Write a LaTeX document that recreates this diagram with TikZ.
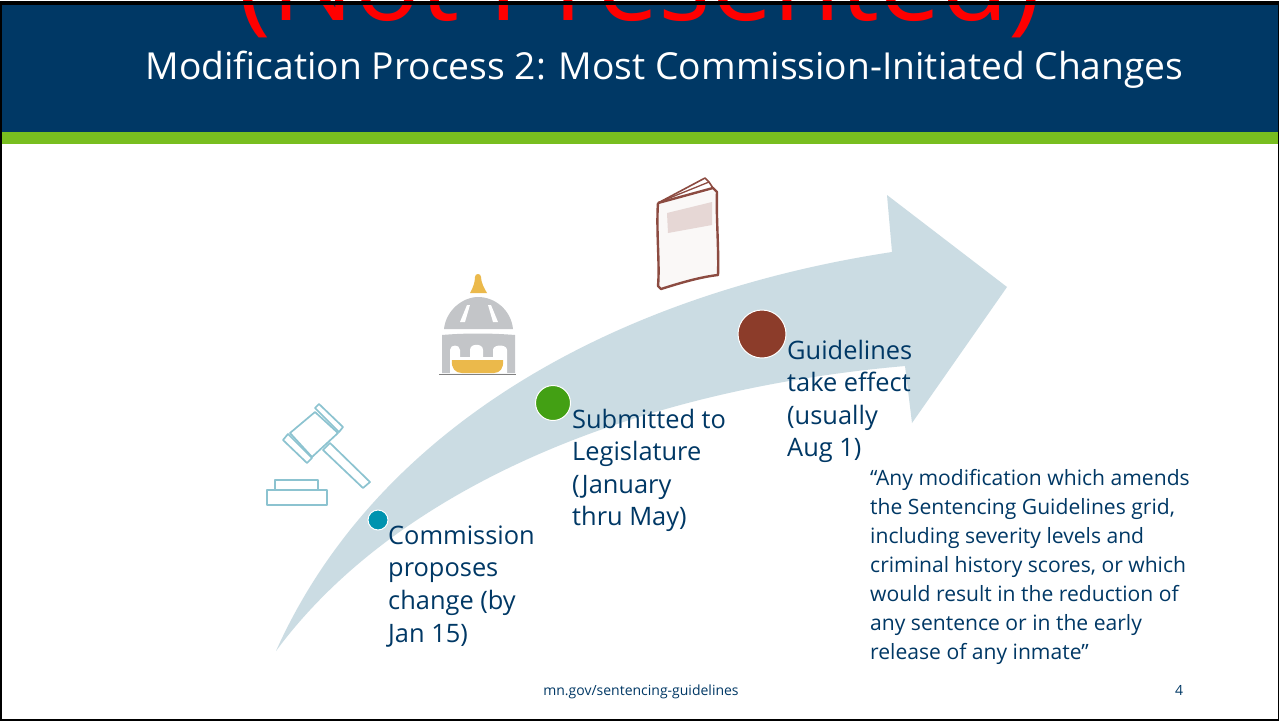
\documentclass[tikz,border=0pt]{standalone}
\usepackage{fontspec}
\setmainfont{Open Sans}
\definecolor{navy}{RGB}{0,56,101}
\definecolor{leaf}{RGB}{120,190,32}
\definecolor{arrowfill}{RGB}{203,220,227}
\definecolor{txt}{RGB}{0,56,101}
\definecolor{gavel}{RGB}{140,195,208}
\definecolor{teal}{RGB}{0,147,175}
\definecolor{green2}{RGB}{67,160,20}
\definecolor{rust}{RGB}{140,60,42}
\definecolor{gold}{RGB}{235,185,75}
\definecolor{domegray}{RGB}{195,197,200}
\definecolor{bookedge}{RGB}{140,75,65}
\tikzset{
  x=1pt,y=-1pt,
  steplabel/.style={anchor=north west,inner sep=0pt,align=left,text=txt,font=\fontsize{25.4}{32.6}\selectfont},
  dot/.style={circle,draw=white,line width=1pt,inner sep=0pt},
  gavelline/.style={draw=gavel,line width=1.7pt,double=gavel!45!white,double distance=1.2pt,line join=round},
}
\begin{document}
\begin{tikzpicture}
\useasboundingbox (0,0) rectangle (1279,721);
\fill[white] (0,0) rectangle (1279,721);
\fill[navy] (2,4) rectangle (1278,132);
\fill[leaf] (2,132) rectangle (1278,144);
% red text running off the top
\node[anchor=base,inner sep=0pt,text=red,font=\fontsize{110}{112}\selectfont] (np) at (640,20) {(Not Presented)};
\node[anchor=base,inner sep=0pt,text=white,font=\fontsize{37.2}{42}\selectfont] (title) at (664.5,79) {Modification Process 2: Most Commission-Initiated Changes};
% big arrow
\fill[arrowfill] (276,651) .. controls (375,430) and (610,295) .. (892,252) -- (887,195) -- (1007,287) -- (912,423) -- (905,366)
  .. controls (630,390) and (395,490) .. cycle;
% gavel
\begin{scope}[gavelline]
\draw (315,412) -- (338,433) -- (312,457) -- (290,433) -- cycle;
\draw (319,404) -- (343,427) -- (339,432) -- (315,408) -- cycle;
\draw (288,434) -- (312,458) -- (307,463) -- (283,440) -- cycle;
\draw (330,443) -- (370,482) -- (363,488) -- (323,450) -- cycle;
\draw (275,480) rectangle (318,490);
\draw (267,490) rectangle (327,505);
\end{scope}
% capitol
\fill[gold] (470,293) .. controls (473,288) and (475,282) .. (475,277) .. controls (475,273) and (481,273) .. (481,277) .. controls (481,282) and (484,288) .. (487,293) -- cycle;
\fill[domegray] (444,329) .. controls (446,310) and (463,297) .. (478,297) .. controls (495,297) and (511,310) .. (513,329) -- cycle;
\fill[white] (460,322) -- (467,305) -- (470,305) -- (465,322) -- cycle;
\fill[white] (488,305) -- (491,305) -- (498,322) -- (493,322) -- cycle;
\fill[domegray] (442,335) .. controls (465,333) and (490,333) .. (515,335) -- (515,373) -- (442,373) -- cycle;
\fill[white] (450,373) -- (450,350) .. controls (450,344) and (460,344) .. (460,350) -- (460,357) -- (470,357)
  -- (470,350) .. controls (470,343) and (483,343) .. (483,350) -- (483,357) -- (493,357) -- (493,350) .. controls (493,344) and (507,344) .. (507,350) -- (507,373) -- cycle;
\fill[gold] (452,360) -- (503,360) .. controls (504,368) and (500,373) .. (494,373) -- (462,373) .. controls (455,373) and (451,368) .. (452,360) -- cycle;
\draw[gray,line width=.6pt] (439,374.5) -- (516,374.5);
% book
\fill[white!96!bookedge] (658,203) -- (717,190) -- (718,275) -- (658,288) -- cycle;
\fill[white!78!bookedge] (667,213) -- (712,202) -- (712,225) -- (668,233) -- cycle;
\draw[bookedge,line width=2.4pt,line join=round] (658,203) .. controls (656,230) and (660,265) .. (658,286) -- (661,289) .. controls (680,283) and (700,277) .. (718,275) .. controls (719,250) and (716,215) .. (717,192) -- (713,188) -- (658,203);
\draw[bookedge,line width=1.6pt,line join=round] (658,203) -- (705,178) -- (709,182) -- (713,188);
\draw[bookedge,line width=1.3pt] (662,201) -- (709,182);
% dots
\node[dot,fill=teal,minimum size=20pt] (d1) at (378,520) {};
\node[dot,fill=green2,minimum size=35pt] (d2) at (553,403) {};
\node[dot,fill=rust,minimum size=48pt] (d3) at (762,334) {};
% labels
\node[steplabel] (l1) at (388,525.5) {Commission\\proposes\\change (by\\Jan 15)};
\node[steplabel] (l2) at (572,408.5) {Submitted to\\Legislature\\(January\\thru May)};
\node[steplabel] (l3) at (787,339.5) {Guidelines\\take effect\\(usually\\Aug 1)};
\node[anchor=north west,inner sep=0pt,align=left,text=txt,font=\fontsize{21.1}{28.9}\selectfont] (q) at (870,469.5) {“Any modification which amends\\the Sentencing Guidelines grid,\\including severity levels and\\criminal history scores, or which\\would result in the reduction of\\any sentence or in the early\\release of any inmate”};
\node[anchor=base,inner sep=0pt,text=txt,font=\fontsize{14}{16}\selectfont] (url) at (641,695) {mn.gov/sentencing-guidelines};
\node[anchor=base,inner sep=0pt,text=txt,font=\fontsize{14}{16}\selectfont] (pg) at (1179,695) {4};
% frame
\draw[black,line width=2pt] (1,720) -- (1,2) ;
\draw[black,line width=3.5pt] (0,3) -- (1279,3);
\draw[black,line width=1.5pt] (0,720) -- (1279,720);
\draw[black,line width=1pt] (1278.5,3) -- (1278.5,721);
\end{tikzpicture}
\end{document}
